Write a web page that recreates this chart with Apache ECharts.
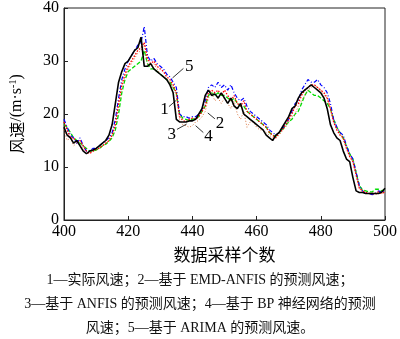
<!DOCTYPE html>
<html>
<head>
<meta charset="utf-8">
<script src="https://cdn.jsdelivr.net/npm/echarts@6/dist/echarts.min.js"></script>
<style>
  html, body { margin: 0; padding: 0; background: #fff; }
  #chart { width: 400px; height: 339px; }
</style>
</head>
<body>
<div id="chart"></div>
<script>
// 采样起点（横轴从 400 开始，每个样本一个点）
var startIndex = 400;
var xTicks = [400, 420, 440, 460, 480, 500];
var yTicks = [0, 10, 20, 30, 40];

// 1—实际风速
var actual = [17.5, 16, 15.5, 14.5, 15, 14, 13, 12.5, 13, 13.2,
  13.5, 14, 14.5, 15, 16, 18, 22, 26, 28, 29.5,
  30, 31, 32, 32.5, 34.5, 29, 29, 29.5, 28.5, 28,
  27.5, 27, 26.5, 25.5, 24, 19, 18.5, 18.5, 18.5, 18.7,
  18.7, 19, 20, 21, 23.5, 24.5, 23.5, 23.8, 23, 24,
  23, 22, 23, 21.5, 21, 22, 20, 19.5, 19, 18.5,
  18, 17.5, 17, 16, 15.5, 15, 16, 16.5, 17.5, 18.5,
  19.5, 21, 21.5, 23, 24, 24.5, 25, 25.5, 25, 24.5,
  24, 23, 21, 18, 16.5, 15.5, 15, 13, 11.5, 11,
  8, 5.5, 5.2, 5.2, 5, 5, 5, 5, 5, 5.3, 6];

// 2—基于 EMD-ANFIS 的预测风速
var emdAnfis = [18.5, 17, 15.5, 15.5, 14.5, 15, 14, 13, 12.5, 13,
  13.3, 13.6, 14, 14.5, 15, 16, 18, 22, 25.5, 27.5,
  29, 30, 31, 32, 32.5, 33.5, 30.5, 29.5, 30, 29,
  28.5, 28, 27, 26.5, 25.5, 24, 19.5, 18.8, 18.5, 19,
  19.2, 19, 19.5, 20.5, 21.5, 24, 24.5, 24, 24.5, 23.5,
  24.5, 23.5, 22.5, 23.5, 22, 21.5, 22.5, 20.5, 20, 19.5,
  19, 18.5, 18, 17.5, 16.5, 16, 15.5, 16.5, 17, 18,
  19, 20, 21.5, 22, 23.5, 24.5, 25, 25.5, 25.5, 25,
  24.5, 24, 23, 21, 18.5, 17, 16, 15.5, 13.5, 12,
  11, 8.5, 6, 5.5, 5.2, 5, 5, 5, 5.3, 5, 5.3];

// 3—基于 ANFIS 的预测风速
var anfis = [18, 17.5, 16.5, 15.5, 15, 14.5, 14, 13.5, 13, 13,
  13.2, 13.5, 14, 14.3, 14.8, 15.5, 17, 20, 24, 26.5,
  28, 28.5, 29, 29.5, 30, 32, 29.5, 28.5, 28.5, 28,
  27.5, 27, 26.5, 26, 25, 24, 20, 19.2, 19, 18.8,
  19, 19.2, 19.5, 20.5, 21.5, 23.5, 24, 23.5, 24, 23.5,
  23.5, 23, 22.5, 23, 22, 21.5, 21.5, 20.5, 20, 19.5,
  19, 18.5, 18, 17.5, 16.5, 16, 15.8, 16.5, 17, 17.8,
  18.5, 19, 20, 20.5, 22, 23.5, 24.5, 24, 23.5, 23.5,
  23, 22.5, 22, 21, 19, 17.5, 16.5, 15.5, 14, 12.5,
  11.5, 9, 6.5, 5.7, 5.5, 5.3, 5.3, 5.8, 5.8, 5.5, 5.8];

// 4—基于 BP 神经网络的预测风速
var bp = [17, 15, 15.5, 14, 14.5, 15, 13.5, 12.5, 12.8, 13,
  13.2, 13.5, 14, 14.5, 15, 16, 18, 21.5, 25, 27,
  28.5, 29.5, 30.5, 31.5, 32, 33, 29.5, 29, 29.5, 28.5,
  27.5, 27, 26.5, 26, 25, 23.5, 19, 18, 17.8, 17.5,
  17.8, 18.5, 18.8, 19.5, 20.5, 23, 24, 22.5, 23, 22,
  23, 22, 21, 22.5, 20, 19, 20.5, 17.5, 18.5, 18.5,
  17.5, 17, 17, 16.5, 16, 15.5, 15.5, 16, 16.8, 17.5,
  18.5, 19.5, 20, 21.5, 22.5, 23.5, 24.5, 25, 25.5, 25,
  24.5, 23.5, 23, 21, 18.5, 17, 16.5, 15, 13.5, 12,
  11, 8.5, 6, 5.2, 5, 5, 4.8, 4.8, 5, 5, 5.3];

// 5—基于 ARIMA 的预测风速
var arima = [19, 17.5, 16, 15.5, 14.5, 15.5, 14, 13, 13, 13.5,
  13.5, 14, 14.5, 15, 15.5, 16.5, 19, 23, 26.5, 28.5,
  30, 31, 32, 33, 33.5, 36.5, 31, 30, 30.5, 29.5,
  29, 28.5, 27.5, 27, 26, 25, 20, 19.5, 19.5, 19.2,
  19.5, 19.5, 20, 21, 22.5, 25, 25.5, 25, 26, 25,
  25.5, 24.5, 25.5, 24, 23, 22.5, 23, 21.5, 20.5, 20,
  19.5, 19, 18.5, 18, 17, 16.5, 16, 16.5, 17.2, 18,
  19, 20.5, 22, 22.5, 24.5, 25.5, 26.5, 26, 26, 26.5,
  25.5, 25, 24, 22, 19, 17.5, 16.5, 16, 14, 12.5,
  11.5, 9, 6.5, 5.5, 5, 5, 4.8, 5, 5.5, 5.2, 5.5];

// 曲线编号标注（数据坐标）
var notes = [
  { text: '1', at: [431.3, 20.9], line: [[432.7, 21.4], [435, 22.6]] },
  { text: '2', at: [448.6, 18.2], line: [[444.8, 20.2], [447.0, 19.1]] },
  { text: '3', at: [433.6, 16.2], line: [[435.2, 17.1], [438.2, 18.1]] },
  { text: '4', at: [445.0, 15.8], line: [[443.4, 16.5], [441.0, 17.8]] },
  { text: '5', at: [439.0, 28.9], line: [[433.8, 26.8], [437.2, 28.6]] }
];

var captionLines = [
  '1—实际风速；2—基于 EMD-ANFIS 的预测风速；',
  '3—基于 ANFIS 的预测风速；4—基于 BP 神经网络的预测',
  '风速；5—基于 ARIMA 的预测风速。'
];

function pairs(vals) {
  return vals.map(function (v, i) { return [startIndex + i, v]; });
}

var serif = '"Liberation Serif", "Times New Roman", "Noto Sans CJK SC", serif';
var cjk = '"Noto Sans CJK SC", sans-serif';

var chart = echarts.init(document.getElementById('chart'), null, { renderer: 'canvas' });

var option = {
  animation: false,
  backgroundColor: '#fff',
  graphic: [{
    type: 'text',
    left: 'center',
    top: 268,
    style: {
      text: captionLines.join('\n'),
      textAlign: 'center',
      font: '14px ' + serif,
      fill: '#111',
      lineHeight: 24
    }
  }],
  grid: {
    left: 49, right: 14, top: 6, bottom: 119,
    show: true, borderColor: '#222', borderWidth: 1
  },
  xAxis: {
    type: 'value',
    min: xTicks[0], max: xTicks[xTicks.length - 1], interval: 20,
    name: '数据采样个数',
    nameLocation: 'middle',
    nameGap: 26,
    nameTextStyle: { fontFamily: cjk, fontSize: 17, color: '#000' },
    axisLine: { lineStyle: { color: '#222', width: 1 } },
    axisTick: { inside: true, length: 4, lineStyle: { color: '#222' } },
    axisLabel: { fontFamily: serif, fontSize: 16, color: '#000', margin: 4 },
    splitLine: { show: false }
  },
  yAxis: {
    type: 'value',
    min: yTicks[0], max: yTicks[yTicks.length - 1], interval: 10,
    name: '{a|风速}{b|/(m·s}{s|-1}{b|)}',
    nameLocation: 'middle',
    nameGap: 38,
    nameTextStyle: {
      color: '#000',
      rich: {
        a: { fontFamily: cjk, fontSize: 16, color: '#000' },
        b: { fontFamily: serif, fontSize: 16, color: '#000' },
        s: { fontFamily: serif, fontSize: 10, color: '#000', verticalAlign: 'top', padding: [0, 0, 8, 0] }
      }
    },
    axisLine: { show: true, lineStyle: { color: '#222', width: 1 } },
    axisTick: { show: true, inside: true, length: 4, lineStyle: { color: '#222' } },
    axisLabel: { fontFamily: serif, fontSize: 16, color: '#000', margin: 5 },
    splitLine: { show: false }
  },
  series: [
    {
      name: 'EMD-ANFIS', type: 'line', data: pairs(emdAnfis), showSymbol: false,
      lineStyle: { color: '#ff0000', width: 1.3, type: [1.5, 1.5] }, z: 3
    },
    {
      name: 'ANFIS', type: 'line', data: pairs(anfis), showSymbol: false,
      lineStyle: { color: '#00dd00', width: 1.3, type: [4, 2] }, z: 2
    },
    {
      name: 'BP', type: 'line', data: pairs(bp), showSymbol: false,
      lineStyle: { color: '#d8703a', width: 1, type: [1, 2] }, z: 2
    },
    {
      name: 'ARIMA', type: 'line', data: pairs(arima), showSymbol: false,
      lineStyle: { color: '#0000ff', width: 1.2, type: [4, 2, 1, 2] }, z: 2
    },
    {
      name: '实际风速', type: 'line', data: pairs(actual), showSymbol: false,
      lineStyle: { color: '#000', width: 1.6 }, z: 4,
      markLine: {
        silent: true, symbol: 'none',
        lineStyle: { color: '#000', width: 0.8, type: 'solid' },
        label: { show: false },
        data: notes.map(function (n) {
          return [{ coord: n.line[0] }, { coord: n.line[1] }];
        })
      },
      markPoint: {
        silent: true, symbol: 'circle', symbolSize: 0,
        label: {
          show: true, position: 'inside',
          fontFamily: serif, fontSize: 17, color: '#000'
        },
        data: notes.map(function (n) {
          return { coord: n.at, value: n.text, label: { formatter: n.text } };
        })
      }
    }
  ]
};

chart.setOption(option);
</script>
</body>
</html>
